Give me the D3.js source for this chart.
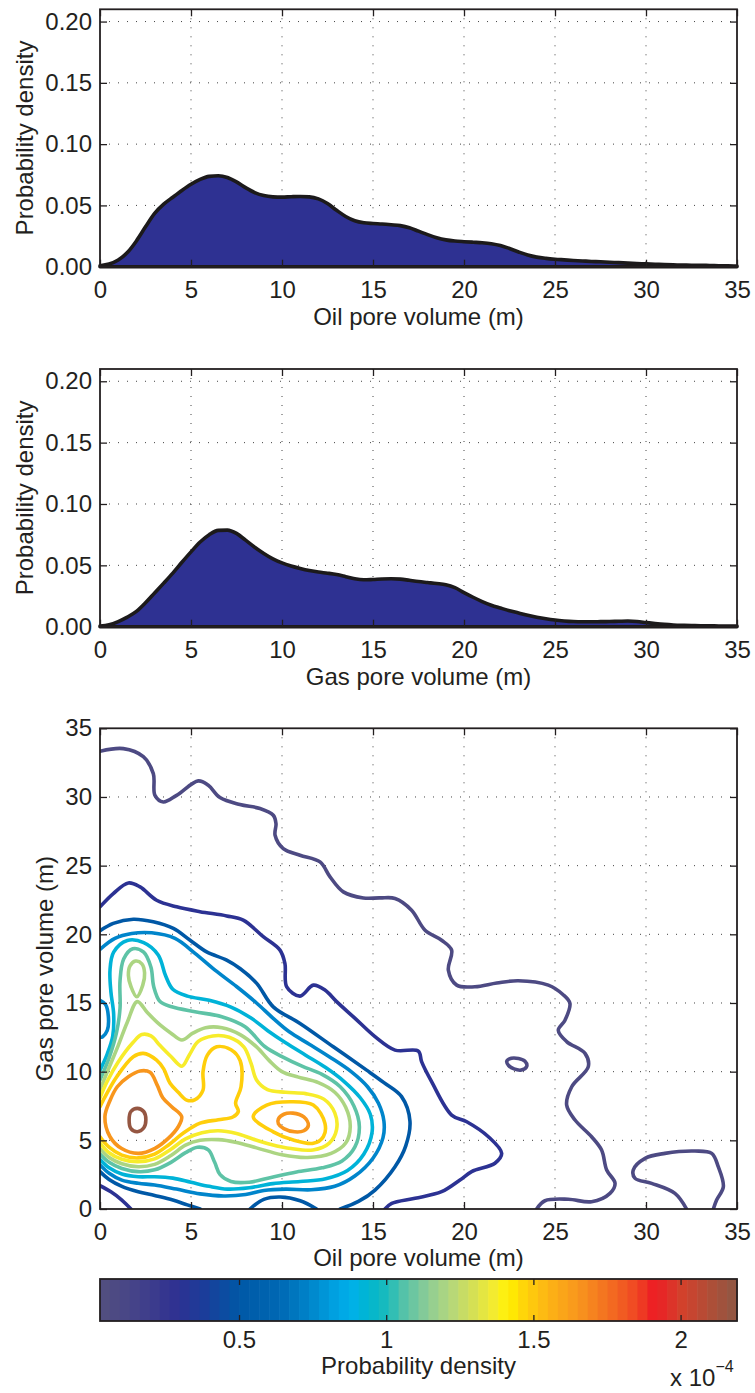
<!DOCTYPE html>
<html>
<head>
<meta charset="utf-8">
<script src="https://cdn.jsdelivr.net/npm/d3@7"></script>
<style>
  html, body { margin: 0; padding: 0; background: #fff; }
  svg { display: block; }
  text { font-family: "Liberation Sans", Arial, Helvetica, sans-serif; fill: #231f20; }
</style>
</head>
<body>
<svg id="fig" width="755" height="1393"></svg>
<script>
// ---------------------------------------------------------------
// Marginal densities (per metre) sampled every 0.5 m of pore volume
// ---------------------------------------------------------------
const poreVolume = d3.range(0, 35.01, 0.5);
const oilDensity = [0.0008, 0.0022, 0.0055, 0.0115, 0.021, 0.0325, 0.0435, 0.0510, 0.0567, 0.0622,
  0.0672, 0.0712, 0.0737, 0.0742, 0.0728, 0.0692, 0.0645, 0.0605, 0.0580, 0.0570,
  0.0568, 0.0571, 0.0573, 0.0570, 0.0553, 0.0515, 0.0460, 0.0410, 0.0375, 0.0358,
  0.0352, 0.0348, 0.0342, 0.0335, 0.0318, 0.0290, 0.0262, 0.0237, 0.0219, 0.0209,
  0.0204, 0.0200, 0.0196, 0.0188, 0.0173, 0.0148, 0.0120, 0.0095, 0.0078, 0.0068,
  0.0061, 0.0056, 0.0051, 0.0047, 0.0043, 0.0040, 0.0036, 0.0033, 0.0029, 0.0026,
  0.0023, 0.0020, 0.0017, 0.0015, 0.0013, 0.0012, 0.0011, 0.0010, 0.0008, 0.0007, 0.0005];
const gasDensity = [0.0005, 0.0015, 0.0042, 0.0078, 0.0125, 0.0195, 0.0275, 0.0355, 0.0437, 0.0525,
  0.0610, 0.0690, 0.0750, 0.0785, 0.0787, 0.0760, 0.0705, 0.0648, 0.0597, 0.0553,
  0.0520, 0.0495, 0.0475, 0.0458, 0.0445, 0.0436, 0.0425, 0.0408, 0.0390, 0.0382,
  0.0385, 0.0389, 0.0391, 0.0388, 0.0378, 0.0368, 0.0360, 0.0352, 0.0342, 0.0318,
  0.0278, 0.0240, 0.0205, 0.0175, 0.0152, 0.0130, 0.0112, 0.0093, 0.0077, 0.0064,
  0.0054, 0.0047, 0.0042, 0.0040, 0.0040, 0.0041, 0.0042, 0.0044, 0.0046, 0.0042,
  0.0034, 0.0026, 0.0019, 0.0014, 0.0011, 0.0009, 0.0008, 0.0007, 0.0006, 0.0005, 0.0005];

const volumeTicks = [0, 5, 10, 15, 20, 25, 30, 35];
const densityTicks = [0, 0.05, 0.10, 0.15, 0.20];

// ---------------------------------------------------------------
// Joint density colour scale (values in units of 1e-4)
// ---------------------------------------------------------------
const colorbarRange = [0.026, 2.19];
const colorbarTicks = [0.5, 1, 1.5, 2];
const cmapStops = [0.026, 0.16, 0.29, 0.38, 0.50, 0.64, 0.73, 0.82, 0.88, 0.94, 1.0, 1.06, 1.14,
  1.21, 1.30, 1.38, 1.41, 1.47, 1.545, 1.65, 1.76, 1.85, 1.91, 2.0, 2.09, 2.19];
const cmapColors = ["#53507f", "#43418a", "#2e3192", "#1b3d9a", "#0058a6", "#0069b4", "#0082c8",
  "#00a0e0", "#00b0ea", "#00b5cf", "#1bbbbc", "#57c2a8", "#8dcc95", "#b1d67f", "#d8e151",
  "#fbee26", "#fff200", "#ffd20a", "#fdb515", "#f8961d", "#f36c21", "#ef4623", "#ed1c24",
  "#d4402b", "#b24d36", "#8e5845"];

// contour levels (1e-4)
const contourLevels = [0.08, 0.30, 0.50, 0.74, 0.92, 1.07, 1.20, 1.37, 1.48, 1.65, 2.17];

// ---------------------------------------------------------------
// Contour lines of the joint density, [oil, gas] in metres
// ---------------------------------------------------------------
const slateMain = [[0,33.33],[1.28,33.52],[2.38,32.93],[2.93,31.7],[3.02,30.12],[3.48,29.64],[4.21,30.12],
  [5.40,31.17],[5.95,30.85],[6.59,29.96],[7.69,29.45],[8.79,29.16],[9.52,28.67],[9.67,28.06],[9.62,27.21],
  [10.07,26.24],[10.99,25.76],[12.09,25.27],[12.64,24.18],[13.37,23.09],[14.47,22.65],[15.38,22.65],
  [16.21,22.61],[17.12,21.76],[17.86,20.30],[18.77,19.57],[19.32,18.85],[19.14,17.39],[19.60,16.30],
  [20.60,16.18],[21.8,16.45],[22.98,16.62],[24.63,16.30],[25.45,15.6],[25.82,14.97],[25.55,13.75],
  [25.18,13.02],[25.64,12.19],[26.65,11.33],[26.83,10.36],[25.92,8.90],[25.64,7.57],[26.10,6.48],
  [27.01,5.26],[27.56,4.29],[27.84,2.84],[28.30,1.87],[28.02,1.14],[27.01,0.53],[25.73,0.71],
  [24.45,0.60],[23.99,0]];
const slateIsland = [[22.35,10.75],[22.6,10.97],[23.0,10.95],[23.35,10.75],[23.45,10.4],[23.15,10.12],
  [22.75,10.2],[22.45,10.45]];
const slateCorner = [[32.23,0],[31.59,1.14],[30.31,1.87],[29.40,2.23],[29.30,2.84],[29.95,3.69],
  [31.04,4.05],[32.69,4.22],[33.61,4.05],[33.97,3.08],[34.25,1.62],[33.88,0.65],[33.70,0]];

const navyMain = [[0,22.0],[0.73,22.97],[1.56,23.74],[2.20,23.45],[3.11,22.48],[4.21,22.0],[5.49,21.65],
  [6.96,21.34],[7.87,21.03],[8.97,19.83],[9.89,18.85],[10.16,17.88],[10.26,16.18],[10.99,15.5],
  [11.72,16.30],[12.36,15.94],[13.0,15.1],[14.0,13.9],[15.11,12.55],[16.21,11.57],[17.49,11.5],
  [17.67,10.73],[18.22,9.27],[19.32,6.84],[20.15,6.35],[21.34,5.26],[22.07,4.05],[21.70,3.33],
  [20.42,2.72],[19.78,2.11],[18.77,1.26],[17.31,0.78],[16.03,0.41],[15.66,0]];
const navyCorner = [[0,1.7],[0.6,1.25],[1.2,0.65],[1.7,0]];

const darkBlueMain = [[0,20.26],[0.73,20.8],[1.83,21.1],[2.93,20.91],[4.03,20.43],[4.95,19.57],
  [5.86,18.72],[6.96,18.12],[7.69,17.51],[8.61,16.43],[9.52,14.72],[10.99,13.51],[12.82,11.81],
  [14.65,10.11],[15.6,9.2],[16.57,8.18],[17.03,6.4],[16.8,4.6],[16.21,3.08],[15.11,1.38],[14.2,0.55],[13.2,0]];
const darkBlueLow = [[0,2.72],[0.5,2.15],[1.2,1.65],[2.1,1.26],[3.0,0.98],[4.0,0.65],[4.8,0.3],[5.5,0]];
const darkBlueArc = [[8.24,0],[9.0,0.7],[9.9,0.87],[11.0,0.6],[11.9,0]];

const blueMain = [[0,3.2],[0.5,2.6],[1.2,2.1],[2.1,1.87],[3.0,1.75],[4.2,1.45],[5.5,1.1],[6.8,0.95],
  [8.0,1.05],[9.0,1.35],[10.2,1.45],[11.6,1.4],[12.9,1.65],[14.0,2.4],[15.0,3.7],[15.55,5.2],
  [15.6,6.4],[15.3,7.7],[14.7,8.9],[13.8,10.0],[12.7,11.0],[11.5,12.0],[10.4,12.9],[9.5,13.9],
  [8.6,15.0],[7.5,16.2],[6.32,17.39],[5.22,18.61],[4.12,19.7],[2.84,20.11],[1.74,20.06],[0.82,19.7],[0,18.9]];
const blueDip = [[0,15.2],[0.3,14.9],[0.46,14.0],[0.4,13.0],[0.15,12.55],[0,12.5]];

const cyanMain = [[0,3.6],[0.5,3.0],[1.2,2.55],[2.1,2.35],[3.0,2.35],[4.0,2.25],[5.0,1.95],[6.0,1.65],
  [7.0,1.45],[8.2,1.55],[9.5,1.85],[11.0,2.0],[12.4,2.2],[13.6,2.8],[14.5,4.0],[14.95,5.6],[14.85,6.9],
  [14.3,8.1],[13.4,9.3],[12.4,10.3],[11.3,11.2],[10.2,12.1],[9.2,13.0],[8.3,13.9],[7.2,14.7],[6.0,15.2],
  [4.8,15.5],[4.0,16.0],[3.6,17.0],[3.2,18.5],[2.4,19.4],[1.5,19.55],[0.75,18.7],[0.55,17.4],[0.6,15.8],
  [0.75,14.2],[0.7,12.6],[0.4,11.3],[0,10.1]];

const tealMain = [[0,4.0],[0.5,3.4],[1.2,2.95],[2.1,2.72],[3.0,2.85],[3.9,3.4],[4.7,4.1],[5.35,4.5],
  [5.95,4.3],[6.3,3.4],[6.6,2.5],[7.2,2.0],[8.2,1.95],[9.4,2.3],[10.8,2.7],[12.2,3.0],[13.3,3.5],
  [14.0,4.5],[14.25,6.0],[13.95,7.5],[13.2,8.9],[12.2,9.8],[11.1,10.4],[10.0,11.1],[9.07,11.81],
  [7.97,13.27],[6.69,14.0],[5.22,14.36],[3.94,14.72],[3.3,15.1],[2.95,16.2],[2.8,17.6],[2.4,18.7],
  [1.8,18.95],[1.3,18.2],[1.1,16.6],[1.1,14.6],[0.9,12.8],[0.5,11.0],[0,9.4]];

const greenMain = [[0,4.4],[0.5,3.75],[1.2,3.3],[2.1,3.08],[3.0,3.25],[3.9,3.9],[4.7,4.65],[5.5,5.0],
  [6.5,5.05],[7.5,4.85],[8.6,4.45],[10.0,3.95],[11.4,3.75],[12.7,4.05],[13.5,4.8],[13.75,6.0],
  [13.5,7.4],[12.9,8.5],[12.0,9.2],[10.9,9.6],[10.0,10.0],[9.3,10.8],[8.6,11.8],[7.7,12.7],[6.7,13.2],
  [5.8,13.2],[5.1,12.8],[4.5,12.3],[3.9,12.8],[3.3,13.4],[2.6,14.3],[2.05,15.1],[1.5,13.6],[1.0,11.9],
  [0.5,10.3],[0,8.7]];
const greenLoop = [[1.56,17.0],[1.65,17.7],[1.95,18.05],[2.3,17.85],[2.45,17.2],[2.35,16.3],[2.02,15.45],[1.7,16.2]];

const yellowMain = [[0,4.8],[0.5,4.1],[1.2,3.62],[2.1,3.44],[3.0,3.65],[3.9,4.35],[4.7,5.1],[5.6,5.55],
  [6.5,5.7],[7.5,5.5],[8.4,5.1],[9.4,4.7],[10.5,4.4],[11.7,4.3],[12.6,4.8],[13.0,5.8],[12.9,7.0],
  [12.3,8.0],[11.3,8.4],[10.2,8.5],[9.2,8.7],[8.6,9.4],[8.3,10.6],[7.9,11.8],[7.1,12.5],[6.2,12.6],
  [5.4,12.2],[4.9,11.2],[4.5,10.4],[3.9,11.1],[3.3,11.9],[2.8,12.6],[2.3,12.7],[1.8,12.1],[1.0,10.7],
  [0.4,9.3],[0,8.1]];

const goldMain = [[0,5.26],[0.5,4.5],[1.2,3.92],[2.1,3.72],[3.0,4.0],[3.8,4.7],[4.6,5.55],[5.5,6.25],
  [6.5,6.5],[7.3,6.7],[7.6,7.1],[7.45,7.7],[7.75,8.9],[7.7,10.8],[7.2,11.6],[6.41,11.81],[5.9,11.2],
  [5.66,10.0],[5.66,8.66],[5.2,7.95],[4.76,7.93],[4.3,8.5],[3.85,9.15],[3.5,10.2],[3.11,10.84],
  [2.38,11.33],[1.83,11.08],[0.92,9.63],[0.18,7.93],[0,7.45]];
const goldRight = [[8.42,6.72],[9.16,7.57],[10.44,7.81],[11.72,7.57],[12.36,6.24],[12.27,5.26],
  [11.72,4.78],[10.62,5.02],[9.52,5.62]];

const orangeLeft = [[0.27,6.72],[0.55,7.9],[0.95,8.9],[1.56,9.63],[2.2,10.05],[2.75,9.95],[3.15,9.0],
  [3.45,8.1],[3.94,7.45],[4.49,6.72],[4.3,5.99],[3.75,5.14],[3.02,4.42],[2.1,4.05],[1.19,4.4],[0.55,5.26]];
const orangeRight = [[9.8,6.55],[10.1,6.9],[10.6,6.98],[11.2,6.7],[11.45,6.1],[11.2,5.7],[10.7,5.62],
  [10.1,5.85],[9.8,6.2]];

const brownLoop = [[1.6,6.5],[1.7,7.1],[2.05,7.33],[2.4,7.1],[2.52,6.5],[2.4,5.9],[2.05,5.63],[1.7,5.85]];

// which level each line belongs to, and whether it closes on itself
const contourLines = [
  { level: 0, closed: false, pts: slateMain },
  { level: 0, closed: true,  pts: slateIsland },
  { level: 0, closed: false, pts: slateCorner },
  { level: 1, closed: false, pts: navyMain },
  { level: 1, closed: false, pts: navyCorner },
  { level: 2, closed: false, pts: darkBlueMain },
  { level: 2, closed: false, pts: darkBlueLow },
  { level: 2, closed: false, pts: darkBlueArc },
  { level: 3, closed: false, pts: blueMain },
  { level: 3, closed: false, pts: blueDip },
  { level: 4, closed: false, pts: cyanMain },
  { level: 5, closed: false, pts: tealMain },
  { level: 6, closed: false, pts: greenMain },
  { level: 6, closed: true,  pts: greenLoop },
  { level: 7, closed: false, pts: yellowMain },
  { level: 8, closed: false, pts: goldMain },
  { level: 8, closed: true,  pts: goldRight },
  { level: 9, closed: true,  pts: orangeLeft },
  { level: 9, closed: true,  pts: orangeRight },
  { level: 10, closed: true, pts: brownLoop }
];

// ---------------------------------------------------------------
const INK = "#231f20";
const FONT = 24;
const svg = d3.select("#fig");
const X0 = 100, X1 = 737;
const x = d3.scaleLinear([0, 35], [X0, X1]);
const cmap = d3.scaleLinear().domain(cmapStops).range(cmapColors).interpolate(d3.interpolateRgb);

function styleAxis(g) {
  g.attr("font-family", null).attr("font-size", null);
  g.select(".domain").remove();
  g.selectAll(".tick line").attr("stroke", INK).attr("stroke-width", 1.3);
  g.selectAll(".tick text").attr("font-size", FONT).attr("fill", INK);
}

function grid(g, xs, ys, yScale, top, bottom) {
  g.selectAll(null).data(xs).join("line")
    .attr("x1", d => x(d)).attr("x2", d => x(d))
    .attr("y1", top).attr("y2", bottom)
    .attr("stroke", "#444").attr("stroke-width", 1).attr("stroke-dasharray", "1,8");
  g.selectAll(null).data(ys).join("line")
    .attr("x1", X0).attr("x2", X1)
    .attr("y1", d => yScale(d)).attr("y2", d => yScale(d))
    .attr("stroke", "#444").attr("stroke-width", 1).attr("stroke-dasharray", "1,8");
}

function frame(g, yScale, top, bottom, yTicks, yFmt) {
  g.append("g").attr("transform", `translate(0,${bottom})`)
    .call(d3.axisBottom(x).tickValues(volumeTicks).tickSizeInner(-7).tickSizeOuter(0).tickPadding(14))
    .call(styleAxis);
  g.append("g").attr("transform", `translate(0,${top})`)
    .call(d3.axisTop(x).tickValues(volumeTicks).tickSizeInner(-7).tickSizeOuter(0).tickFormat(""))
    .call(styleAxis);
  g.append("g").attr("transform", `translate(${X0},0)`)
    .call(d3.axisLeft(yScale).tickValues(yTicks).tickSizeInner(-7).tickSizeOuter(0).tickPadding(8).tickFormat(yFmt))
    .call(styleAxis);
  g.append("g").attr("transform", `translate(${X1},0)`)
    .call(d3.axisRight(yScale).tickValues(yTicks).tickSizeInner(-7).tickSizeOuter(0).tickFormat(""))
    .call(styleAxis);
  g.append("rect").attr("x", X0).attr("y", top).attr("width", X1 - X0).attr("height", bottom - top)
    .attr("fill", "none").attr("stroke", INK).attr("stroke-width", 1.8);
}

function yLabel(g, text, bx, top, bottom) {
  g.append("text").attr("transform", `translate(${bx},${(top + bottom) / 2}) rotate(-90)`)
    .attr("text-anchor", "middle").attr("font-size", FONT).text(text);
}
function xLabel(g, text, by) {
  g.append("text").attr("x", (X0 + X1) / 2).attr("y", by)
    .attr("text-anchor", "middle").attr("font-size", FONT).text(text);
}

// ---------- marginal density panels ----------
function densityPanel(top, bottom, values, label) {
  const y = d3.scaleLinear([0, 0.21], [bottom, top]);
  const g = svg.append("g");
  grid(g, volumeTicks.slice(1, -1), densityTicks.slice(1), y, top, bottom);
  const area = d3.area()
    .x((d, i) => x(poreVolume[i]))
    .y0(y(0))
    .y1(d => y(d))
    .curve(d3.curveMonotoneX);
  g.append("path").datum(values).attr("d", area)
    .attr("fill", "#2e3192").attr("stroke", "#1c1a1b").attr("stroke-width", 3.6)
    .attr("stroke-linejoin", "round");
  frame(g, y, top, bottom, densityTicks, d3.format(".2f"));
  yLabel(g, "Probability density", 33, top, bottom);
  xLabel(g, label, bottom + 58);
}
densityPanel(9.3, 266.7, oilDensity, "Oil pore volume (m)");
densityPanel(369, 626.7, gasDensity, "Gas pore volume (m)");

// ---------- joint density contours ----------
(function () {
  const top = 728.3, bottom = 1209;
  const y = d3.scaleLinear([0, 35], [bottom, top]);
  const g = svg.append("g");
  grid(g, volumeTicks.slice(1, -1), volumeTicks.slice(1, -1), y, top, bottom);

  svg.append("clipPath").attr("id", "plotClip")
    .append("rect").attr("x", X0).attr("y", top).attr("width", X1 - X0).attr("height", bottom - top);

  const open = d3.line().x(d => x(d[0])).y(d => y(d[1])).curve(d3.curveCatmullRom.alpha(0.5));
  const closed = d3.line().x(d => x(d[0])).y(d => y(d[1])).curve(d3.curveCatmullRomClosed.alpha(0.5));

  g.append("g").attr("clip-path", "url(#plotClip)")
    .selectAll("path").data(contourLines).join("path")
    .attr("d", d => (d.closed ? closed : open)(d.pts))
    .attr("fill", "none")
    .attr("stroke", d => cmap(contourLevels[d.level]))
    .attr("stroke-width", 3.6)
    .attr("stroke-linejoin", "round").attr("stroke-linecap", "round");

  frame(g, y, top, bottom, volumeTicks, d3.format("d"));
  yLabel(g, "Gas pore volume (m)", 53, top, bottom);
  xLabel(g, "Oil pore volume (m)", bottom + 57);
})();

// ---------- colour bar ----------
(function () {
  const top = 1279, bottom = 1321;
  const cb = d3.scaleLinear(colorbarRange, [X0, X1]);
  const nBands = 64;
  const step = (colorbarRange[1] - colorbarRange[0]) / nBands;
  const bands = d3.range(nBands).map(i => colorbarRange[0] + i * step);
  const g = svg.append("g");
  g.selectAll("rect.band").data(bands).join("rect")
    .attr("x", d => cb(d)).attr("y", top)
    .attr("width", d => cb(d + step) - cb(d) + 0.6).attr("height", bottom - top)
    .attr("fill", d => cmap(d + step / 2));
  g.selectAll(null).data(colorbarTicks).join("line")
    .attr("x1", d => cb(d)).attr("x2", d => cb(d)).attr("y1", top).attr("y2", top + 6)
    .attr("stroke", INK).attr("stroke-width", 1.3);
  g.selectAll(null).data(colorbarTicks).join("line")
    .attr("x1", d => cb(d)).attr("x2", d => cb(d)).attr("y1", bottom).attr("y2", bottom - 6)
    .attr("stroke", INK).attr("stroke-width", 1.3);
  g.append("rect").attr("x", X0).attr("y", top).attr("width", X1 - X0).attr("height", bottom - top)
    .attr("fill", "none").attr("stroke", INK).attr("stroke-width", 1.8);
  g.selectAll(null).data(colorbarTicks).join("text")
    .attr("x", d => cb(d)).attr("y", 1348).attr("text-anchor", "middle")
    .attr("font-size", FONT).text(d => d3.format("")(d));
  g.append("text").attr("x", (X0 + X1) / 2).attr("y", 1374).attr("text-anchor", "middle")
    .attr("font-size", FONT).text("Probability density");
  const mult = g.append("text").attr("x", 670).attr("y", 1386).attr("font-size", FONT);
  mult.append("tspan").text("x 10");
  mult.append("tspan").attr("font-size", 16).attr("dy", -14).text("\u22124");
})();
</script>
</body>
</html>
